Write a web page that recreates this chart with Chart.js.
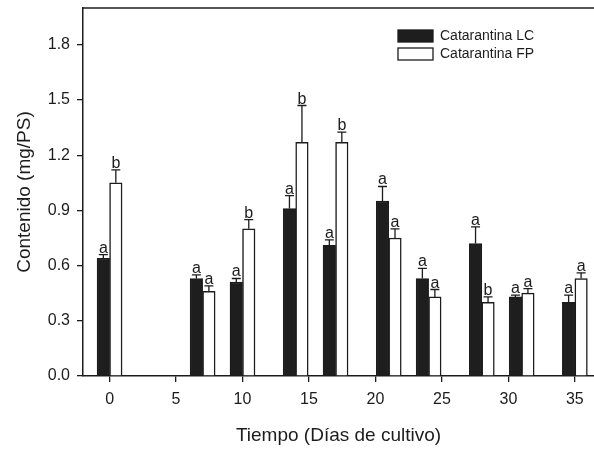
<!DOCTYPE html>
<html>
<head>
<meta charset="utf-8">
<script src="https://cdn.jsdelivr.net/npm/chart.js@4.4.1/dist/chart.umd.min.js"></script>
<style>
    html, body { margin: 0; padding: 0; background: #fff; }
    canvas { display: block; }
</style>
</head>
<body>
<canvas id="chart" width="594" height="449"></canvas>
<script>
// Catarantina content over culture time

const days = [0, 7, 10, 14, 17, 21, 24, 28, 31, 35];
const lcValues = [0.64, 0.53, 0.51, 0.91, 0.71, 0.95, 0.53, 0.72, 0.43, 0.40];
const lcErrors = [0.02, 0.02, 0.02, 0.07, 0.03, 0.08, 0.055, 0.09, 0.01, 0.04];
const lcLetters = ["a", "a", "a", "a", "a", "a", "a", "a", "a", "a"];
const fpValues = [1.05, 0.46, 0.80, 1.27, 1.27, 0.75, 0.43, 0.40, 0.45, 0.53];
const fpErrors = [0.07, 0.03, 0.05, 0.20, 0.055, 0.05, 0.04, 0.03, 0.025, 0.03];
const fpLetters = ["b", "a", "b", "b", "b", "a", "a", "b", "a", "a"];
const xTicks = [0, 5, 10, 15, 20, 25, 30, 35];
const yTicks = [0.0, 0.3, 0.6, 0.9, 1.2, 1.5, 1.8];

const FONT = "'Liberation Sans', Arial, sans-serif";
const INK = "#1c1c1c";

function toPoints(values) {
    return days.map((d, i) => ({ x: d, y: values[i] }));
}

// error bars (upper only) with significance letters, frame top line and legend
const extras = {
    id: "extras",
    afterDatasetsDraw(chart) {
        const ctx = chart.ctx;
        const yScale = chart.scales.y;
        const area = chart.chartArea;

        ctx.save();
        ctx.strokeStyle = INK;
        ctx.fillStyle = INK;
        ctx.lineWidth = 1.3;
        ctx.font = "16px " + FONT;
        ctx.textAlign = "center";
        ctx.textBaseline = "alphabetic";

        chart.data.datasets.forEach((ds, i) => {
            const meta = chart.getDatasetMeta(i);
            meta.data.forEach((bar, j) => {
                const yTop = yScale.getPixelForValue(ds.data[j].y + ds.errors[j]);
                ctx.beginPath();
                ctx.moveTo(bar.x, bar.y);
                ctx.lineTo(bar.x, yTop);
                ctx.moveTo(bar.x - 4.5, yTop);
                ctx.lineTo(bar.x + 4.5, yTop);
                ctx.stroke();
                ctx.fillText(ds.letters[j], bar.x, yTop - 2);
            });
        });

        // top frame line
        ctx.lineWidth = 1.5;
        ctx.beginPath();
        ctx.moveTo(area.left, area.top);
        ctx.lineTo(area.right, area.top);
        ctx.stroke();

        // legend
        ctx.font = "14px " + FONT;
        ctx.textAlign = "left";
        ctx.textBaseline = "middle";
        chart.data.datasets.forEach((ds, i) => {
            const y = 30 + i * 18;
            ctx.fillStyle = ds.backgroundColor;
            ctx.fillRect(398, y, 35, 12);
            ctx.lineWidth = 1.3;
            ctx.strokeRect(398, y, 35, 12);
            ctx.fillStyle = INK;
            ctx.fillText(ds.label, 440, y + 6.5);
        });
        ctx.restore();
    }
};

new Chart(document.getElementById("chart"), {
    type: "bar",
    data: {
        datasets: [
            {
                label: "Catarantina LC",
                data: toPoints(lcValues),
                errors: lcErrors,
                letters: lcLetters,
                backgroundColor: "#1e1e1e",
                borderColor: INK,
                borderWidth: 1.3
            },
            {
                label: "Catarantina FP",
                data: toPoints(fpValues),
                errors: fpErrors,
                letters: fpLetters,
                backgroundColor: "#ffffff",
                borderColor: INK,
                borderWidth: 1.5
            }
        ]
    },
    options: {
        responsive: false,
        animation: false,
        barThickness: 12.5,
        layout: { padding: { top: 0, right: 0, left: 0, bottom: 0 } },
        plugins: {
            legend: { display: false },
            tooltip: { enabled: false }
        },
        scales: {
            x: {
                type: "linear",
                offset: false,
                min: -2,
                max: 36.44,
                afterBuildTicks: (scale) => { scale.ticks = xTicks.map(v => ({ value: v })); },
                afterFit: (scale) => { scale.height = 73; },
                grid: { offset: false, drawOnChartArea: false, drawTicks: true, tickLength: 6, color: INK, lineWidth: 1.3 },
                border: { display: true, color: INK, width: 1.5 },
                ticks: { color: INK, padding: 8, maxRotation: 0, font: { family: FONT, size: 16 } },
                title: {
                    display: true,
                    text: "Tiempo (Días de cultivo)",
                    color: INK,
                    font: { family: FONT, size: 19 },
                    padding: { top: 0, bottom: 2 }
                }
            },
            y: {
                min: 0,
                max: 2.0,
                afterBuildTicks: (scale) => { scale.ticks = yTicks.map(v => ({ value: v })); },
                afterFit: (scale) => { scale.width = 83; scale.paddingTop = 8; },
                grid: { drawOnChartArea: false, drawTicks: true, tickLength: 6, color: INK, lineWidth: 1.3 },
                border: { display: true, color: INK, width: 1.5 },
                ticks: {
                    color: INK,
                    padding: 7,
                    font: { family: FONT, size: 16 },
                    callback: (v) => Number(v).toFixed(1)
                },
                title: {
                    display: true,
                    text: "Contenido (mg/PS)",
                    color: INK,
                    font: { family: FONT, size: 19 },
                    padding: { top: 13, bottom: 0 }
                }
            }
        }
    },
    plugins: [extras]
});
</script>
</body>
</html>
